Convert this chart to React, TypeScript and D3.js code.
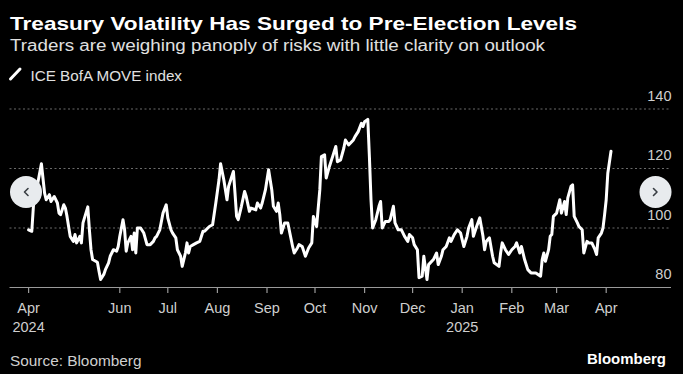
import React from "react";
import * as d3 from "d3";

const dates: string[] = [
  "2024-04-05","2024-04-07","2024-04-08","2024-04-13","2024-04-15","2024-04-16","2024-04-18","2024-04-19","2024-04-21","2024-04-23",
  "2024-04-24","2024-04-25","2024-04-27","2024-04-28","2024-04-29","2024-04-30","2024-05-01","2024-05-03","2024-05-04","2024-05-05",
  "2024-05-07","2024-05-08","2024-05-09","2024-05-12","2024-05-13","2024-05-14","2024-05-15","2024-05-18","2024-05-19","2024-05-20",
  "2024-05-22","2024-05-23","2024-05-25","2024-05-26","2024-05-27","2024-05-28","2024-05-30","2024-05-31","2024-06-01","2024-06-03",
  "2024-06-04","2024-06-05","2024-06-06","2024-06-08","2024-06-09","2024-06-10","2024-06-11","2024-06-12","2024-06-14","2024-06-16",
  "2024-06-18","2024-06-20","2024-06-22","2024-06-23","2024-06-24","2024-06-26","2024-06-28","2024-06-30","2024-07-01","2024-07-03",
  "2024-07-04","2024-07-06","2024-07-07","2024-07-09","2024-07-10","2024-07-12","2024-07-13","2024-07-14","2024-07-15","2024-07-17",
  "2024-07-19","2024-07-21","2024-07-23","2024-07-24","2024-07-26","2024-07-27","2024-07-29","2024-07-31","2024-08-02","2024-08-03",
  "2024-08-05","2024-08-07","2024-08-08","2024-08-11","2024-08-12","2024-08-13","2024-08-14","2024-08-16","2024-08-18","2024-08-19",
  "2024-08-21","2024-08-22","2024-08-25","2024-08-26","2024-08-28","2024-08-29","2024-08-31","2024-09-02","2024-09-04","2024-09-05",
  "2024-09-07","2024-09-08","2024-09-09","2024-09-10","2024-09-12","2024-09-14","2024-09-17","2024-09-18","2024-09-20","2024-09-21",
  "2024-09-23","2024-09-25","2024-09-27","2024-09-29","2024-09-30","2024-10-02","2024-10-04","2024-10-05","2024-10-07","2024-10-08",
  "2024-10-10","2024-10-12","2024-10-14","2024-10-15","2024-10-17","2024-10-19","2024-10-20","2024-10-22","2024-10-25","2024-10-26",
  "2024-10-28","2024-10-30","2024-10-31","2024-11-01","2024-11-03","2024-11-04","2024-11-05","2024-11-06","2024-11-08","2024-11-10",
  "2024-11-11","2024-11-12","2024-11-14","2024-11-16","2024-11-17","2024-11-19","2024-11-20","2024-11-22","2024-11-24","2024-11-26",
  "2024-11-28","2024-11-29","2024-12-01","2024-12-02","2024-12-04","2024-12-05","2024-12-07","2024-12-08","2024-12-10","2024-12-11",
  "2024-12-14","2024-12-16","2024-12-17","2024-12-19","2024-12-20","2024-12-22","2024-12-24","2024-12-25","2024-12-27","2024-12-29",
  "2024-12-31","2025-01-02","2025-01-04","2025-01-05","2025-01-07","2025-01-08","2025-01-10","2025-01-12","2025-01-14","2025-01-15",
  "2025-01-16","2025-01-18","2025-01-20","2025-01-21","2025-01-24","2025-01-25","2025-01-26","2025-01-28","2025-01-30","2025-02-01",
  "2025-02-03","2025-02-04","2025-02-06","2025-02-07","2025-02-09","2025-02-11","2025-02-13","2025-02-16","2025-02-19","2025-02-20",
  "2025-02-21","2025-02-22","2025-02-24","2025-02-25","2025-02-26","2025-02-27","2025-03-01","2025-03-03","2025-03-04","2025-03-06",
  "2025-03-07","2025-03-08","2025-03-10","2025-03-11","2025-03-12","2025-03-14","2025-03-15","2025-03-17","2025-03-18","2025-03-20",
  "2025-03-21","2025-03-23","2025-03-25","2025-03-26","2025-03-27","2025-03-29","2025-03-30","2025-03-31","2025-04-01","2025-04-02",
  "2025-04-04"
];

const moveIndex: number[] = [
  99.4,98.9,107.3,121.6,111.7,109.5,111.2,108.9,110.6,108.4,
  105.0,104.5,107.8,106.7,103.9,100.5,97.2,95.5,97.8,95.0,
  97.2,95.0,101.7,107.1,99.4,92.7,89.4,88.5,85.5,82.7,
  84.4,86.0,88.3,90.5,91.6,92.7,92.2,93.8,97.2,102.8,
  99.4,92.2,95.0,97.2,92.7,98.3,91.6,100.0,100.0,98.3,
  94.4,94.4,95.5,96.7,97.2,99.4,105.0,107.8,103.4,99.4,
  98.3,96.7,92.7,90.5,87.1,91.6,95.0,91.6,93.8,94.4,
  95.0,95.5,98.9,98.9,100.0,100.5,101.1,108.4,116.2,121.6,
  116.2,109.5,114.0,119.0,111.7,103.9,102.8,107.3,112.3,110.6,
  105.6,106.7,106.1,108.4,106.7,108.4,112.8,119.6,112.8,107.3,
  105.6,108.4,104.5,98.3,101.7,101.7,93.8,91.6,93.3,94.4,
  93.8,90.5,93.3,95.0,103.9,100.5,112.8,124.0,124.6,116.8,
  120.7,124.0,127.4,122.3,122.9,126.8,129.6,127.9,129.6,130.7,
  132.4,135.2,134.1,135.7,136.5,124.0,109.5,100.0,102.8,107.3,
  108.9,100.0,102.2,102.2,102.8,107.3,101.7,99.4,99.4,97.2,
  95.5,97.8,96.7,94.4,92.7,83.3,83.8,90.5,82.7,87.7,
  89.4,91.6,87.7,90.5,92.7,93.8,96.7,95.5,97.8,99.4,
  98.3,93.8,97.2,100.0,102.8,97.2,100.5,103.4,97.2,92.7,
  95.5,96.7,90.5,88.3,87.1,91.6,95.0,92.7,91.1,92.7,
  93.8,95.0,91.6,93.8,89.4,86.0,84.9,84.9,83.8,89.4,
  91.6,88.8,92.7,97.2,97.8,103.9,105.0,109.5,105.0,108.9,
  104.5,110.1,114.0,114.5,103.9,101.7,100.5,99.4,91.6,95.5,
  95.0,95.0,92.7,91.1,96.7,98.3,100.0,104.5,109.5,118.4,
  125.8
];

const tickDates: string[] = [
  "2024-04-05","2024-06-01","2024-07-01","2024-08-01","2024-09-01","2024-10-01",
  "2024-11-01","2024-12-01","2025-01-01","2025-02-01","2025-03-01","2025-04-01"
];
const tickMonths: string[] = ["Apr","Jun","Jul","Aug","Sep","Oct","Nov","Dec","Jan","Feb","Mar","Apr"];
const tickYears: string[] = ["2024","","","","","","","","2025","","",""];
const yTicks: number[] = [80, 100, 120, 140];

const title = "Treasury Volatility Has Surged to Pre-Election Levels";
const subtitle = "Traders are weighing panoply of risks with little clarity on outlook";
const legendLabel = "ICE BofA MOVE index";
const source = "Source: Bloomberg";

const W = 683;
const H = 374;
const FONT = "'Liberation Sans', Arial, sans-serif";

export default function App() {
  const parse = d3.utcParse("%Y-%m-%d");
  const data = dates.map((d, i) => ({ date: parse(d) as Date, value: moveIndex[i] }));

  const x = d3
    .scaleUtc()
    .domain([parse("2024-04-05") as Date, parse("2025-04-04") as Date])
    .range([28.6, 611]);
  const y = d3.scaleLinear().domain([80, 140]).range([287.5, 109]);

  const line = d3
    .line<{ date: Date; value: number }>()
    .x((d) => x(d.date))
    .y((d) => y(d.value))
    .curve(d3.curveLinear);

  const plotLeft = 9.5;
  const plotRight = 671;

  return (
    <svg
      width={W}
      height={H}
      style={{ position: "absolute", left: 0, top: 0, background: "#000", display: "block" }}
    >
      <rect x={0} y={0} width={W} height={H} fill="#000" />
      <text x={10} y={30} fill="#fff" fontFamily={FONT} fontWeight={700} fontSize={18.5}
        textLength={567} lengthAdjust="spacingAndGlyphs">{title}</text>
      <text x={10} y={51} fill="#e0e0e0" fontFamily={FONT} fontSize={16}
        textLength={535} lengthAdjust="spacingAndGlyphs">{subtitle}</text>

      <line x1={10.5} y1={79} x2={20} y2={69} stroke="#fff" strokeWidth={3} strokeLinecap="round" />
      <text x={30.5} y={80.5} fill="#e0e0e0" fontFamily={FONT} fontSize={15.5}
        textLength={151.5} lengthAdjust="spacingAndGlyphs">{legendLabel}</text>

      {yTicks.filter((t) => t !== 80).map((t) => (
        <line key={"g" + t} x1={plotLeft} x2={plotRight} y1={y(t)} y2={y(t)}
          stroke="#6b6b6b" strokeWidth={1} strokeDasharray="2,2.5" />
      ))}
      {yTicks.map((t) => (
        <text key={"yl" + t} x={671.5} y={y(t) - 8.5} fill="#cfcfcf" fontFamily={FONT}
          fontSize={14.5} textAnchor="end">{t}</text>
      ))}

      <line x1={plotLeft} x2={plotRight} y1={287.5} y2={287.5} stroke="#9a9a9a" strokeWidth={1.2} />
      {tickDates.map((t, i) => {
        const xp = x(parse(t) as Date);
        return (
          <g key={"xt" + i}>
            <line x1={xp} x2={xp} y1={287.5} y2={293} stroke="#9a9a9a" strokeWidth={1.2} />
            <text x={xp} y={313.3} fill="#cfcfcf" fontFamily={FONT} fontSize={14.5} textAnchor="middle">
              {tickMonths[i]}
            </text>
            {tickYears[i] && (
              <text x={xp} y={332.3} fill="#cfcfcf" fontFamily={FONT} fontSize={14.5} textAnchor="middle">
                {tickYears[i]}
              </text>
            )}
          </g>
        );
      })}

      <path d={line(data) || ""} fill="none" stroke="#fff" strokeWidth={3}
        strokeLinejoin="round" strokeLinecap="round" />

      <circle cx={26} cy={192} r={16} fill="#e8ebee" />
      <path d="M28,188.5 L24.5,192 L28,195.5" fill="none" stroke="#3a3f45" strokeWidth={1.6} strokeLinecap="round" strokeLinejoin="round" />
      <circle cx={655.5} cy={192} r={16} fill="#e8ebee" />
      <path d="M653.5,188.5 L657,192 L653.5,195.5" fill="none" stroke="#3a3f45" strokeWidth={1.6} strokeLinecap="round" strokeLinejoin="round" />

      <text x={10} y={366} fill="#cfcfcf" fontFamily={FONT} fontSize={14.5}
        textLength={131.5} lengthAdjust="spacingAndGlyphs">{source}</text>
      <text x={666} y={363.5} fill="#fff" fontFamily={FONT} fontWeight={700} fontSize={15}
        textAnchor="end" textLength={79} lengthAdjust="spacingAndGlyphs">Bloomberg</text>
    </svg>
  );
}
